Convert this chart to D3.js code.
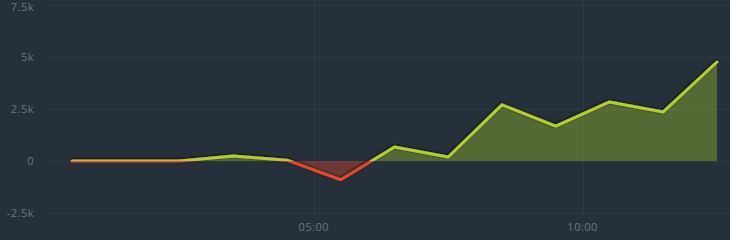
<!DOCTYPE html>
<html>
<head>
<meta charset="utf-8">
<script src="https://cdn.jsdelivr.net/npm/d3@7"></script>
<style>
	html, body { margin: 0; padding: 0; background: #25303b; }
	#chart { width: 730px; height: 240px; }
	text { font-family: "Open Sans", sans-serif; font-size: 11px; fill: #6e767e; }
</style>
</head>
<body>
<div id="chart"></div>
<script>
// Match minutes (the samples sit half way between the minute marks)
const minutes = [0.5, 1.5, 2.5, 3.5, 4.5, 5.5, 6.5, 7.5, 8.5, 9.5, 10.5, 11.5, 12.5];
// Advantage at each sample
const advantage = [0, 0, 0, 240, 40, -900, 670, 190, 2700, 1680, 2840, 2360, 4760];

// Axis ticks
const yTicks = [-2500, 0, 2500, 5000, 7500];
const yTickLabels = ["-2.5k", "0", "2.5k", "5k", "7.5k"];
const xTicks = [5, 10];
const xTickLabels = ["05:00", "10:00"];

class AdvantagePlot {
	constructor(targetElementName) {
		this.targetElement = d3.select(`#${targetElementName}`);
		this.data = minutes.map((m, i) => ({ "minute": m, "value": advantage[i] }));

		this.width = 730;
		this.height = 240;

		this.initPlot();
		this.drawGrid();
		this.drawSeries();
	}

	initPlot() {
		this.svg = this.targetElement.append("svg")
									 .attr("width", this.width)
									 .attr("height", this.height);

		this.x = d3.scaleLinear()
				   .domain([0.5, 12.5])
				   .range([72, 717]);

		this.y = d3.scaleLinear()
				   .domain([-2500, 7500])
				   .range([213, 5]);

		this.defs = this.svg.append("defs");

		// Dark shadow under the line
		this.defs.append("filter")
				 .attr("id", "shadow")
				 .attr("x", "-10%").attr("y", "-50%")
				 .attr("width", "120%").attr("height", "200%")
				 .append("feDropShadow")
				 .attr("dx", -0.5)
				 .attr("dy", -0.5)
				 .attr("stdDeviation", 0.8)
				 .attr("flood-color", "#000")
				 .attr("flood-opacity", 0.9);
	}

	drawGrid() {
		const x0 = 48, x1 = this.width;

		// Horizontal gridlines + labels
		const yAxis = this.svg.append("g").attr("class", "y-axis");
		yAxis.selectAll("line")
			 .data(yTicks)
			 .enter()
			 .append("line")
			 .attr("x1", x0).attr("x2", x1)
			 .attr("y1", d => Math.round(this.y(d)) + 0.5)
			 .attr("y2", d => Math.round(this.y(d)) + 0.5)
			 .attr("stroke", "#2e3944");
		// keep the top label inside the frame
		yAxis.selectAll("text")
			 .data(yTicks)
			 .enter()
			 .append("text")
			 .attr("x", 34)
			 .attr("y", d => Math.max(this.y(d), 7))
			 .attr("dy", "0.35em")
			 .attr("text-anchor", "end")
			 .style("letter-spacing", "0.5px")
			 .text((d, i) => yTickLabels[i]);

		// Vertical gridlines + labels
		const xAxis = this.svg.append("g").attr("class", "x-axis");
		xAxis.selectAll("line")
			 .data(xTicks)
			 .enter()
			 .append("line")
			 .attr("x1", d => Math.round(this.x(d)) + 0.5)
			 .attr("x2", d => Math.round(this.x(d)) + 0.5)
			 .attr("y1", 0).attr("y2", 216)
			 .attr("stroke", "#2e3944");
		xAxis.selectAll("text")
			 .data(xTicks)
			 .enter()
			 .append("text")
			 .attr("x", d => this.x(d))
			 .attr("y", 227)
			 .attr("dy", "0.35em")
			 .attr("text-anchor", "middle")
			 .style("letter-spacing", "0.5px")
			 .text((d, i) => xTickLabels[i]);
	}

	drawSeries() {
		const zeroY = this.y(0);

		// Gradient that flips colour at the zero line
		const makeGradient = (id, stops) => {
			const g = this.defs.append("linearGradient")
							   .attr("id", id)
							   .attr("gradientUnits", "userSpaceOnUse")
							   .attr("x1", 0).attr("x2", 0)
							   .attr("y1", 0).attr("y2", this.height);
			stops.forEach(s => g.append("stop")
								.attr("offset", s[0] / this.height)
								.attr("stop-color", s[1])
								.attr("stop-opacity", s[2] === undefined ? 1 : s[2]));
		};

		makeGradient("lineGrad", [
			[0, "#b3cd30"], [zeroY - 2, "#b3cd30"], [zeroY - 0.5, "#d2b450"],
			[zeroY + 0.8, "#c8402a"], [zeroY + 1.5, "#e04c2e"], [this.height, "#e04c2e"]
		]);
		makeGradient("areaGrad", [
			[0, "#8fb02a", 0.45], [zeroY, "#8fb02a", 0.45],
			[zeroY, "#d8442e", 0.4], [this.height, "#d8442e", 0.4]
		]);

		const area = d3.area()
					   .x(d => this.x(d.minute))
					   .y0(zeroY)
					   .y1(d => this.y(d.value));

		const line = d3.line()
					   .x(d => this.x(d.minute))
					   .y(d => this.y(d.value));

		this.svg.append("path")
				.datum(this.data)
				.attr("d", area)
				.attr("fill", "url(#areaGrad)");

		this.svg.append("path")
				.datum(this.data)
				.attr("d", line)
				.attr("fill", "none")
				.attr("stroke", "url(#lineGrad)")
				.attr("stroke-width", 3)
				.attr("stroke-linejoin", "round")
				.attr("stroke-linecap", "round")
				.attr("filter", "url(#shadow)");
	}
}

new AdvantagePlot("chart");
</script>
</body>
</html>
